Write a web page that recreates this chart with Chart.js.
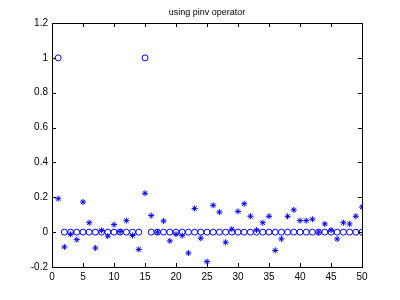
<!DOCTYPE html>
<html><head><meta charset="utf-8">
<script src="https://cdn.jsdelivr.net/npm/chart.js@4"></script>
<style>html,body{margin:0;padding:0;background:#fff}#w{width:400px;height:300px}</style>
</head><body><div id="w"><canvas id="c" width="400" height="300"></canvas></div>
<script>
const titleText = 'using pinv operator';
const indices = [1,2,3,4,5,6,7,8,9,10,11,12,13,14,15,16,17,18,19,20,21,22,23,24,25,26,27,28,29,30,31,32,33,34,35,36,37,38,39,40,41,42,43,44,45,46,47,48,49,50];
const trueValues = [1,0,0,0,0,0,0,0,0,0,0,0,0,0,1,0,0,0,0,0,0,0,0,0,0,0,0,0,0,0,0,0,0,0,0,0,0,0,0,0,0,0,0,0,0,0,0,0,0,0];
const pinvValues = [0.192,-0.085,-0.012,-0.043,0.173,0.054,-0.091,0.01,-0.023,0.043,0.003,0.066,-0.019,-0.099,0.223,0.095,0.0,0.064,-0.05,-0.012,-0.02,-0.12,0.136,-0.035,-0.169,0.154,0.115,-0.058,0.017,0.119,0.163,0.091,0.012,0.054,0.091,-0.105,-0.039,0.091,0.128,0.066,0.066,0.074,0.0,0.047,0.012,-0.039,0.054,0.047,0.091,0.144];
const xTicks = [0,5,10,15,20,25,30,35,40,45,50];
const yTicks = [-0.2,0,0.2,0.4,0.6,0.8,1,1.2];
const yTickLabels = ['-0.2','0','0.2','0.4','0.6','0.8','1','1.2'];

const toPts = (xs, ys) => xs.map((x,i)=>({x:x,y:ys[i]}));

const boxTicks = {
  id:'boxTicks',
  afterDraw(chart){
    const {ctx, chartArea:a, scales:{x,y}} = chart;
    ctx.save();
    ctx.strokeStyle='#000'; ctx.lineWidth=1;
    ctx.strokeRect(Math.round(a.left)+0.5, Math.round(a.top)+0.5, Math.round(a.right-a.left), Math.round(a.bottom-a.top));
    ctx.beginPath();
    const L=4;
    xTicks.forEach(v=>{const p=Math.round(x.getPixelForValue(v))+0.5;
      ctx.moveTo(p,a.bottom); ctx.lineTo(p,a.bottom-L);
      ctx.moveTo(p,a.top); ctx.lineTo(p,a.top+L);});
    yTicks.forEach(v=>{const p=Math.round(y.getPixelForValue(v))+0.5;
      ctx.moveTo(a.left,p); ctx.lineTo(a.left+L,p);
      ctx.moveTo(a.right,p); ctx.lineTo(a.right-L,p);});
    ctx.stroke();
    ctx.fillStyle='#000';
    ctx.font='9px "Liberation Sans", Arial, sans-serif';
    ctx.textAlign='center'; ctx.textBaseline='middle';
    ctx.fillText(titleText,(a.left+a.right)/2,13);
    ctx.restore();
  }
};

new Chart(document.getElementById('c'),{
  type:'scatter',
  data:{datasets:[
    {label:'true',data:toPts(indices,trueValues),pointStyle:'circle',pointRadius:3,pointBorderColor:'#0000ff',pointBackgroundColor:'rgba(0,0,0,0)',pointBorderWidth:1,showLine:false},
    {label:'pinv',data:toPts(indices,pinvValues),pointStyle:'star',pointRadius:3,pointBorderColor:'#0000ff',pointBackgroundColor:'#0000ff',pointBorderWidth:1,showLine:false}
  ]},
  options:{
    responsive:false,animation:false,
    layout:{padding:{left:0,right:38,top:23,bottom:0}},
    plugins:{legend:{display:false},tooltip:{enabled:false},title:{display:false}},
    scales:{
      x:{type:'linear',min:0,max:50,
        afterBuildTicks:s=>{s.ticks=xTicks.map(v=>({value:v}));},
        afterFit:s=>{s.height=33;},
        grid:{display:false,drawTicks:false},border:{display:false},
        ticks:{color:'#000',font:{size:10,family:'"Liberation Sans", Arial, sans-serif'},padding:4,maxRotation:0,autoSkip:false}},
      y:{type:'linear',min:-0.2,max:1.2,
        afterBuildTicks:s=>{s.ticks=yTicks.map(v=>({value:v}));},
        afterFit:s=>{s.width=52;},
        grid:{display:false,drawTicks:false},border:{display:false},
        ticks:{color:'#000',font:{size:10,family:'"Liberation Sans", Arial, sans-serif'},padding:4,autoSkip:false,
          callback:(v,i)=>yTickLabels[yTicks.indexOf(Math.round(v*10)/10)] ?? ''}}
    }
  },
  plugins:[boxTicks]
});
</script></body></html>
